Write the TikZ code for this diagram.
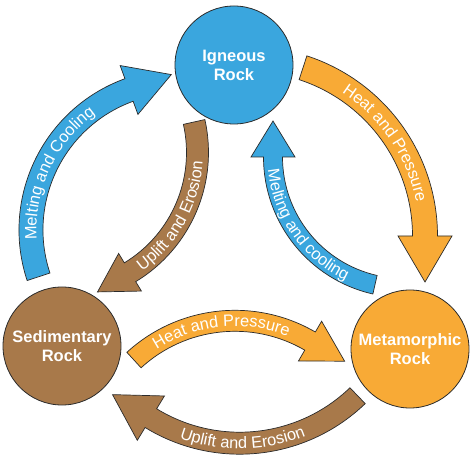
\documentclass[tikz,border=0pt]{standalone}
\usepackage{fontspec}
\setmainfont{Liberation Sans}
\usetikzlibrary{calc,decorations.text}
\definecolor{rockblue}{HTML}{3AA6DE}
\definecolor{rockorange}{HTML}{F8AA36}
\definecolor{rockbrown}{HTML}{A8794A}
\definecolor{outl}{HTML}{2B2B2B}
\newcommand\arcfont{\fontsize{16.4}{19}\selectfont}
% #1 colour, #2 cx, #3 cy, #4 R, #5 width, #6 tail angle, #7 head angle, #8 head half width, #9 head length
\newcommand\rockarrow[9]{%
  \pgfmathsetmacro\rOut{#4+#5/2}%
  \pgfmathsetmacro\rIn{#4-#5/2}%
  \pgfmathsetmacro\bOut{#4+#8}%
  \pgfmathsetmacro\bIn{#4-#8}%
  \pgfmathsetmacro\tang{#7+ifthenelse(#7>#6,90,-90)}%
  \path[arrowshape, fill=#1]
    ($(#2,#3)+(#6:\rOut pt)$) arc[start angle=#6, end angle=#7, radius=\rOut pt]
    -- ($(#2,#3)+(#7:\bOut pt)$)
    -- ($(#2,#3)+(#7:#4pt)+(\tang:#9pt)$)
    -- ($(#2,#3)+(#7:\bIn pt)$)
    -- ($(#2,#3)+(#7:\rIn pt)$)
    arc[start angle=#7, end angle=#6, radius=\rIn pt] -- cycle;
}
% #1 cx, #2 cy, #3 r, #4 a1, #5 a2, #6 text
\newcommand\arclabel[6]{%
  \path[decorate, decoration={text along path, text align=center, text color=white,
      text={|\arcfont|#6}}]
    ($(#1,#2)+(#4:#3pt)$) arc[start angle=#4, end angle=#5, radius=#3pt];
}
\tikzset{
  rock/.style={circle, minimum size=118pt, inner sep=0pt, draw=outl, line width=0.8pt,
    text=white, align=center, font=\fontsize{16.5}{19}\selectfont\bfseries},
  arrowshape/.style={draw=outl, line width=0.7pt, line join=miter}
}
\begin{document}
\begin{tikzpicture}[x=1pt,y=1pt]
\useasboundingbox[fill=white] (0,0) rectangle (473,460);
\node[rock, fill=rockblue] (ign) at (234,395) {Igneous\\Rock};
\node[rock, fill=rockbrown] (sed) at (62,114) {Sedimentary\\Rock};
\node[rock, fill=rockorange] (met) at (410,111) {Metamorphic\\Rock};
% outer arrows
\rockarrow{rockblue}{180}{230}{149}{24}{198.3}{110}{26}{45}
\rockarrow{rockorange}{248}{224}{177}{25}{71.9}{0}{27}{46}
% inner arrows
\rockarrow{rockblue}{404}{303}{131}{19}{257.2}{180}{22}{36}
\rockarrow{rockbrown}{57.5}{307.5}{140}{22}{12.6}{-58.8}{22}{38}
\rockarrow{rockorange}{234.9}{-10.2}{149.4}{21}{132.5}{59.8}{23}{40}
\rockarrow{rockbrown}{239.7}{186.8}{170}{22}{-46.1}{-121.5}{26}{45}
% labels
\arclabel{180}{230}{143.5}{200}{110}{Melting and Cooling}
\arclabel{248}{224}{171.5}{72}{-4}{Heat and Pressure}
\arclabel{404}{303}{136.5}{175}{255}{Melting and cooling}
\arclabel{57.5}{307.5}{145.5}{-60}{2}{Uplift and Erosion}
\arclabel{234.9}{-10.2}{143.9}{130}{61.4}{Heat and Pressure}
\arclabel{239.7}{186.8}{175.5}{-119}{-59}{Uplift and Erosion}
\end{tikzpicture}
\end{document}
